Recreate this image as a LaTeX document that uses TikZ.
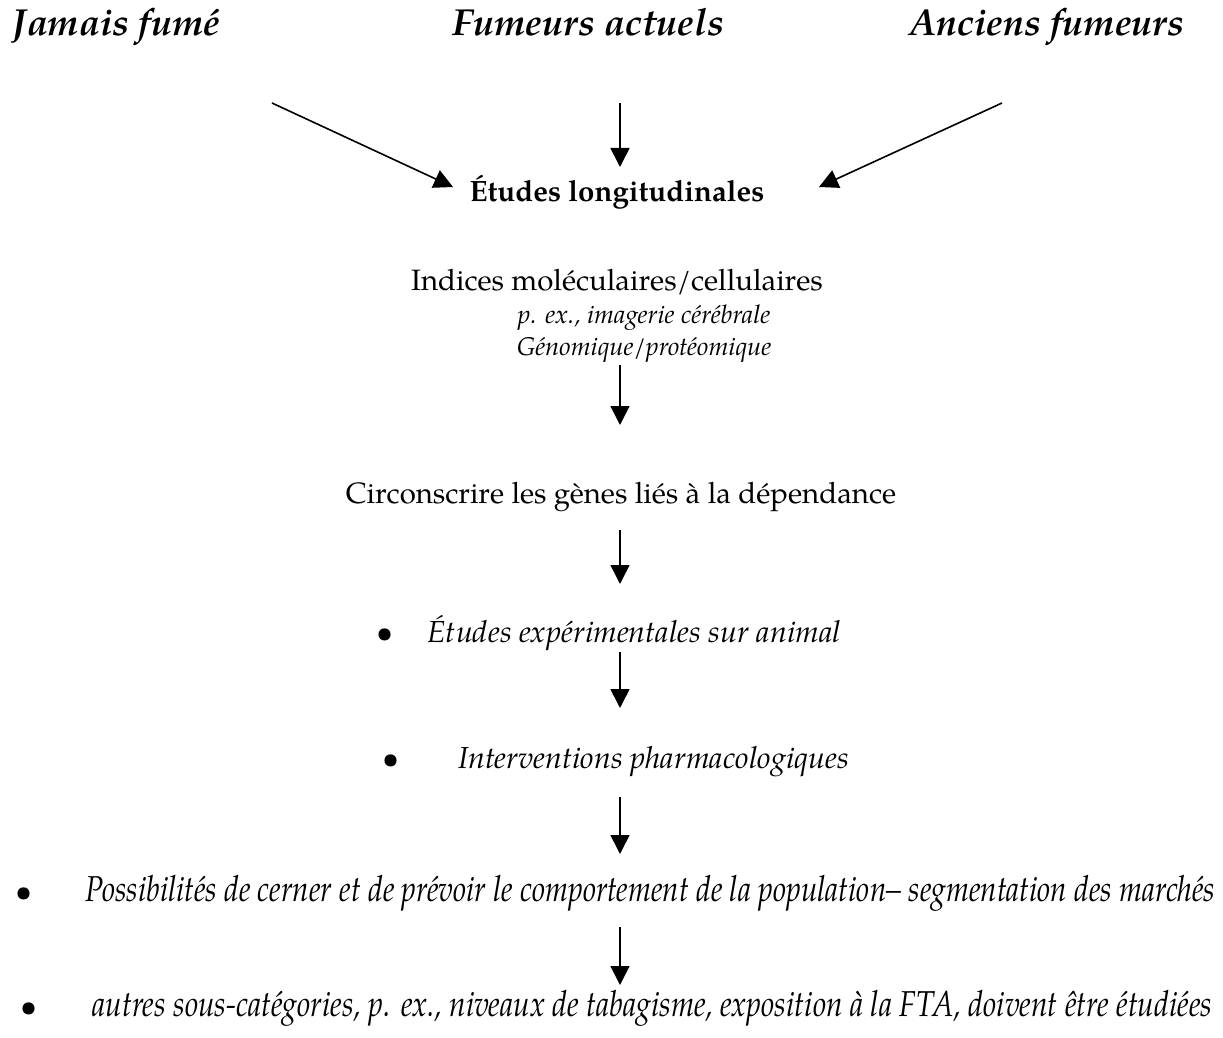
\documentclass[tikz,border=0pt]{standalone}
\usepackage{fontspec}
\setmainfont{TeX Gyre Pagella}
\usetikzlibrary{arrows.meta}

\tikzset{
    head/.style={font=\fontsize{18.8}{22}\selectfont\bfseries\itshape, inner sep=0pt},
    txt/.style={font=\fontsize{14.7}{17}\selectfont, inner sep=0pt},
    note/.style={font=\fontsize{12.8}{15}\selectfont\itshape, inner sep=0pt},
    item/.style={font=\fontsize{15.2}{18}\selectfont\itshape, inner sep=0pt, anchor=west},
    tall/.style={font=\fontsize{18}{21}\selectfont\itshape, inner sep=0pt, anchor=west},
    arr/.style={line width=0.8pt, -{Triangle[length=9.5pt, width=9.5pt]}}
}

\begin{document}
\begin{tikzpicture}[x=0.5pt, y=-0.5pt]
    \useasboundingbox (0,0) rectangle (1223,1038);

    % groups
    \node[head, anchor=base west] (jamais) at (12,36) {Jamais fumé};
    \node[head, anchor=base] (actuels) at (588,36) {Fumeurs actuels};
    \node[head, anchor=base east] (anciens) at (1185,36) {Anciens fumeurs};

    \node[txt, font=\fontsize{14.7}{17}\selectfont\bfseries, anchor=base] (etudes) at (617,202) {Études longitudinales};

    \node[txt] (indices) at (617,282) {Indices moléculaires/cellulaires};
    \node[note] (imagerie) at (644,318) {p. ex., imagerie cérébrale};
    \node[note] (genomique) at (644,350) {Génomique/protéomique};

    \node[txt] (circ) at (621,497) {Circonscrire les gènes liés à la dépendance};

    \node[item] (animal) at (376,633)
        {\makebox[25.5pt][l]{\textbullet}Études expérimentales sur animal};
    \node[item] (pharma) at (382,762)
        {\makebox[38pt][l]{\textbullet}Interventions pharmacologiques};
    \node[tall] (possib) at (15,893)
        {\makebox[35pt][l]{\fontsize{15.2}{18}\selectfont\textbullet}\resizebox{565pt}{\height}{Possibilités de cerner et de prévoir le comportement de la population– segmentation des marchés}};
    \node[tall] (autres) at (20,1008)
        {\makebox[36pt][l]{\fontsize{15.2}{18}\selectfont\textbullet}\resizebox{560pt}{\height}{autres sous-catégories, p. ex., niveaux de tabagisme, exposition à la FTA, doivent être étudiées}};

    % arrow ends
    \coordinate (j0) at (272,103);
    \coordinate (j1) at (453,187);
    \coordinate (a0) at (620,103);
    \coordinate (a1) at (620,167);
    \coordinate (c0) at (1002,103);
    \coordinate (c1) at (819,187);
    \coordinate (g0) at (620,365);
    \coordinate (g1) at (620,425);
    \coordinate (d0) at (620,530);
    \coordinate (d1) at (620,584);
    \coordinate (e0) at (620,652);
    \coordinate (e1) at (620,708);
    \coordinate (p0) at (620,797);
    \coordinate (p1) at (620,854);
    \coordinate (s0) at (620,927);
    \coordinate (s1) at (620,985);

    \foreach \s/\e in {j0/j1, a0/a1, c0/c1, g0/g1, d0/d1, e0/e1, p0/p1, s0/s1}
        \draw[arr] (\s) -- (\e);
\end{tikzpicture}
\end{document}
